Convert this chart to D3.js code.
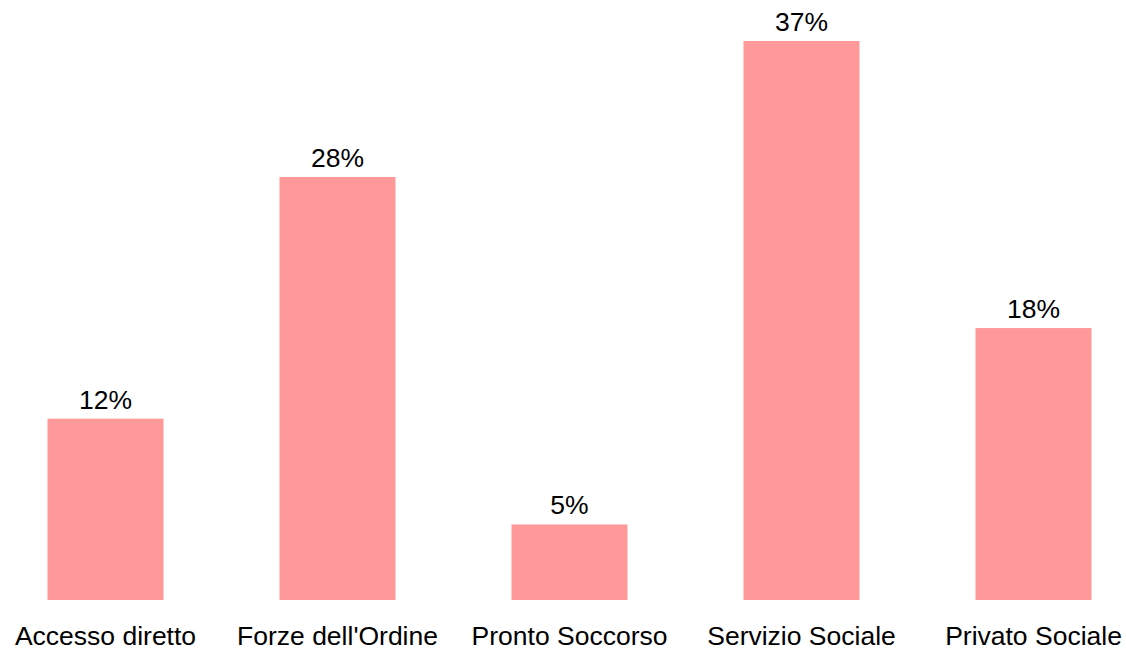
<!DOCTYPE html>
<html>
<head>
<meta charset="utf-8">
<script src="https://cdn.jsdelivr.net/npm/d3@7"></script>
<style>
  body { margin: 0; background: #fff; }
  text { font-family: "Liberation Sans", Arial, sans-serif; fill: #000; }
</style>
</head>
<body>
<div id="chart"></div>
<script>
// Chart data
var categories = ['Accesso diretto', "Forze dell'Ordine", 'Pronto Soccorso', 'Servizio Sociale', 'Privato Sociale'];
var values = [12, 28, 5, 37, 18];
var valueLabels = ['12%', '28%', '5%', '37%', '18%'];

var width = 1126,
    height = 651,
    baseline = 600,
    barColor = '#ff9999',
    fontSize = '26.5px';

var data = categories.map(function(c, i) {
    return {cat: c, value: values[i], label: valueLabels[i]};
});

var svg = d3.select('#chart').append('svg')
    .attr('width', width)
    .attr('height', height);

// x scale: step 232, bar width ~116
var xScale = d3.scaleBand()
    .domain(categories)
    .range([-10.5, 1149.5])
    .paddingInner(0.5)
    .paddingOuter(0.25);

// y scale: 37% reaches y=41
var yScale = d3.scaleLinear()
    .domain([0, 37])
    .range([baseline, 41]);

// Bars
svg.selectAll('.bar')
    .data(data)
    .enter()
    .append('rect')
    .attr('class', 'bar')
    .attr('x', function(d) { return xScale(d.cat); })
    .attr('y', function(d) { return yScale(d.value); })
    .attr('width', xScale.bandwidth())
    .attr('height', function(d) { return baseline - yScale(d.value); })
    .attr('fill', barColor);

// Value labels
svg.selectAll('.value-label')
    .data(data)
    .enter()
    .append('text')
    .attr('class', 'value-label')
    .attr('x', function(d) { return xScale(d.cat) + xScale.bandwidth() / 2; })
    .attr('y', function(d) { return yScale(d.value) - 10; })
    .attr('text-anchor', 'middle')
    .style('font-size', fontSize)
    .text(function(d) { return d.label; });

// Category axis (no line, no ticks)
var xAxis = d3.axisBottom(xScale).tickSize(0).tickPadding(0);
var axisG = svg.append('g')
    .attr('class', 'x-axis')
    .attr('transform', 'translate(0,' + baseline + ')')
    .call(xAxis);
axisG.select('.domain').remove();
axisG.selectAll('text')
    .attr('dy', null)
    .attr('y', 45)
    .style('font-size', fontSize)
    .style('font-family', '"Liberation Sans", Arial, sans-serif')
    .attr('fill', '#000');
</script>
</body>
</html>
